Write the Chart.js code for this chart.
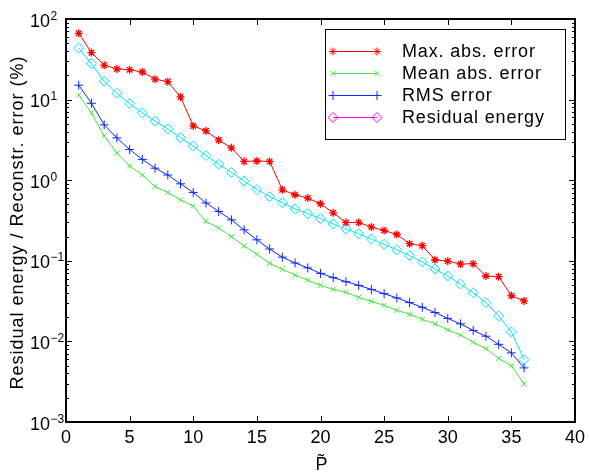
<!DOCTYPE html>
<html>
<head>
<meta charset="utf-8">
<script src="https://cdn.jsdelivr.net/npm/chart.js@4/dist/chart.umd.min.js"></script>
<style>
html,body{margin:0;padding:0;background:#fff;}
#c{display:block;}
</style>
</head>
<body>
<canvas id="c" width="589" height="473"></canvas>
<script>
const pValues = [1,2,3,4,5,6,7,8,9,10,11,12,13,14,15,16,17,18,19,20,21,22,23,24,25,26,27,28,29,30,31,32,33,34,35,36];
const maxAbsError = [66.5,38.3,26.7,24.0,23.5,22.0,17.9,16.7,10.8,4.72,4.09,3.14,2.52,1.71,1.73,1.71,0.76,0.66,0.60,0.51,0.394,0.299,0.299,0.262,0.238,0.212,0.163,0.154,0.103,0.099,0.091,0.092,0.0648,0.0636,0.037,0.0318];
const meanAbsError = [11.4,6.84,3.55,2.17,1.50,1.16,0.835,0.705,0.57,0.477,0.308,0.255,0.199,0.153,0.120,0.093,0.0785,0.0667,0.0575,0.0496,0.0442,0.0406,0.0352,0.0314,0.028,0.0243,0.0217,0.0188,0.0165,0.0139,0.012,0.00975,0.00814,0.00617,0.00497,0.00297];
const rmsError = [15.1,9.0,4.86,3.35,2.40,1.81,1.41,1.16,0.902,0.705,0.522,0.41,0.322,0.242,0.182,0.14,0.111,0.094,0.0817,0.0699,0.0618,0.0551,0.0496,0.0442,0.0391,0.0346,0.0303,0.0265,0.0228,0.0193,0.0165,0.0137,0.0116,0.0092,0.0072,0.00469];
const residualEnergy = [43.7,27.9,16.9,12.0,8.9,6.84,5.40,4.33,3.38,2.65,2.02,1.58,1.25,0.975,0.767,0.628,0.525,0.44,0.385,0.335,0.286,0.248,0.217,0.186,0.16,0.137,0.116,0.0966,0.079,0.0648,0.0515,0.0402,0.0303,0.0207,0.0131,0.00594];
const seriesNames = ['Max. abs. error','Mean abs. error','RMS error','Residual energy'];
const xTickValues = [0,5,10,15,20,25,30,35,40];
const yDecadeExponents = [-3,-2,-1,0,1,2];
const xTitle = 'P\u0303';
const yTitle = 'Residual energy / Reconstr. error (%)';

const FONT = "'Liberation Sans', Arial, Helvetica, sans-serif";

function pts(arr){ return pValues.map((p,i)=>({x:p,y:arr[i]})); }

const styles = [
  {color:'#ff0000', legendColor:'#ff0000', pointStyle:'star', radius:4},
  {color:'#3ee83e', legendColor:'#3ee83e', pointStyle:'crossRot', radius:3.5},
  {color:'#0a28ff', legendColor:'#0a28ff', pointStyle:'cross', radius:4.5},
  {color:'#00e8f8', legendColor:'#ff00ff', pointStyle:'rectRot', radius:5}
];
const allSeries = [maxAbsError, meanAbsError, rmsError, residualEnergy];

const datasets = allSeries.map((arr,i)=>({
  label: seriesNames[i],
  data: pts(arr),
  borderColor: styles[i].color,
  backgroundColor: 'rgba(0,0,0,0)',
  pointBorderColor: styles[i].color,
  pointBackgroundColor: 'rgba(0,0,0,0)',
  pointStyle: styles[i].pointStyle,
  pointRadius: styles[i].radius,
  pointBorderWidth: i === 0 ? 1.3 : 1,
  borderWidth: 1,
  tension: 0,
  fill: false
}));

function supExp(e){ return e < 0 ? '\u2212' + Math.abs(e) : String(e); }
function setSpacing(ctx, v){ if ('letterSpacing' in ctx) ctx.letterSpacing = v; }

const axesPlugin = {
  id: 'axesPlugin',
  afterDraw(chart){
    const ctx = chart.ctx, a = chart.chartArea, x = chart.scales.x, y = chart.scales.y;
    ctx.save();
    ctx.strokeStyle = '#000';
    ctx.lineWidth = 1;
    ctx.beginPath();
    xTickValues.forEach(v=>{
      const p = Math.round(x.getPixelForValue(v)) + 0.5;
      ctx.moveTo(p, a.bottom); ctx.lineTo(p, a.bottom - 6);
      ctx.moveTo(p, a.top); ctx.lineTo(p, a.top + 6);
    });
    yDecadeExponents.forEach(e=>{
      const base = Math.pow(10, e);
      const p = Math.round(y.getPixelForValue(base)) + 0.5;
      ctx.moveTo(a.left, p); ctx.lineTo(a.left + 6, p);
      ctx.moveTo(a.right, p); ctx.lineTo(a.right - 6, p);
      if (e < 2) {
        for (let m = 2; m <= 9; m++) {
          const q = Math.round(y.getPixelForValue(m * base)) + 0.5;
          ctx.moveTo(a.left, q); ctx.lineTo(a.left + 3, q);
          ctx.moveTo(a.right, q); ctx.lineTo(a.right - 3, q);
        }
      }
    });
    ctx.stroke();
    ctx.lineWidth = 2;
    ctx.strokeRect(a.left, a.top, a.right - a.left, a.bottom - a.top);

    ctx.fillStyle = '#000';
    ctx.font = '18px ' + FONT;
    ctx.textAlign = 'center';
    ctx.textBaseline = 'alphabetic';
    xTickValues.forEach(v=>{
      ctx.fillText(String(v), x.getPixelForValue(v), 443);
    });
    yDecadeExponents.forEach(e=>{
      const p = y.getPixelForValue(Math.pow(10, e));
      ctx.font = '18px ' + FONT;
      ctx.textAlign = 'left';
      ctx.fillText('10', 30, p + 7.5);
      const w = ctx.measureText('10').width;
      ctx.font = '12px ' + FONT;
      ctx.fillText(supExp(e), 30 + w + 0.5, p + 0.5);
    });
    ctx.font = '18px ' + FONT;
    ctx.textAlign = 'center';
    ctx.fillText(xTitle, (a.left + a.right) / 2 + 1, 470);

    ctx.save();
    ctx.translate(18, (a.top + a.bottom) / 2 + 2);
    ctx.rotate(-Math.PI / 2);
    ctx.font = '18px ' + FONT;
    setSpacing(ctx, '1px');
    ctx.textAlign = 'center';
    ctx.textBaseline = 'middle';
    ctx.fillText(yTitle, 0, 0);
    ctx.restore();

    const L = {left: 325.5, top: 29.5, right: 565.5, bottom: 139.5};
    ctx.fillStyle = '#fff';
    ctx.fillRect(L.left, L.top, L.right - L.left, L.bottom - L.top);
    ctx.strokeStyle = '#000';
    ctx.lineWidth = 1;
    ctx.strokeRect(L.left, L.top, L.right - L.left, L.bottom - L.top);
    const rows = [51, 73, 95, 117];
    const drawPoint = Chart.helpers && Chart.helpers.drawPoint;
    seriesNames.forEach((name, i)=>{
      const yy = rows[i] + 0.5;
      const col = styles[i].legendColor;
      ctx.strokeStyle = col;
      ctx.lineWidth = 1;
      ctx.beginPath();
      ctx.moveTo(333, yy); ctx.lineTo(377, yy);
      ctx.stroke();
      [333, 377].forEach(px=>{
        ctx.strokeStyle = col;
        ctx.fillStyle = 'rgba(0,0,0,0)';
        ctx.lineWidth = 1;
        if (drawPoint) {
          drawPoint(ctx, {pointStyle: styles[i].pointStyle, radius: styles[i].radius, rotation: 0, borderWidth: 1}, px, yy);
        }
      });
      ctx.fillStyle = '#000';
      ctx.font = '18px ' + FONT;
      setSpacing(ctx, '0.85px');
      ctx.textAlign = 'left';
      ctx.textBaseline = 'middle';
      ctx.fillText(name, 402, rows[i] + 1);
      setSpacing(ctx, '0px');
    });
    ctx.restore();
  }
};

new Chart(document.getElementById('c'), {
  type: 'line',
  data: { datasets },
  options: {
    responsive: false,
    animation: false,
    devicePixelRatio: 1,
    layout: { padding: { left: 66, top: 19, right: 14, bottom: 51 } },
    plugins: { legend: { display: false }, tooltip: { enabled: false } },
    scales: {
      x: {
        type: 'linear', min: 0, max: 40,
        grid: { display: false },
        border: { display: false },
        ticks: { display: false },
        afterFit(s){ s.height = 0; }
      },
      y: {
        type: 'logarithmic', min: 0.001, max: 100,
        grid: { display: false },
        border: { display: false },
        ticks: { display: false },
        afterFit(s){ s.width = 0; }
      }
    }
  },
  plugins: [axesPlugin]
});
</script>
</body>
</html>
